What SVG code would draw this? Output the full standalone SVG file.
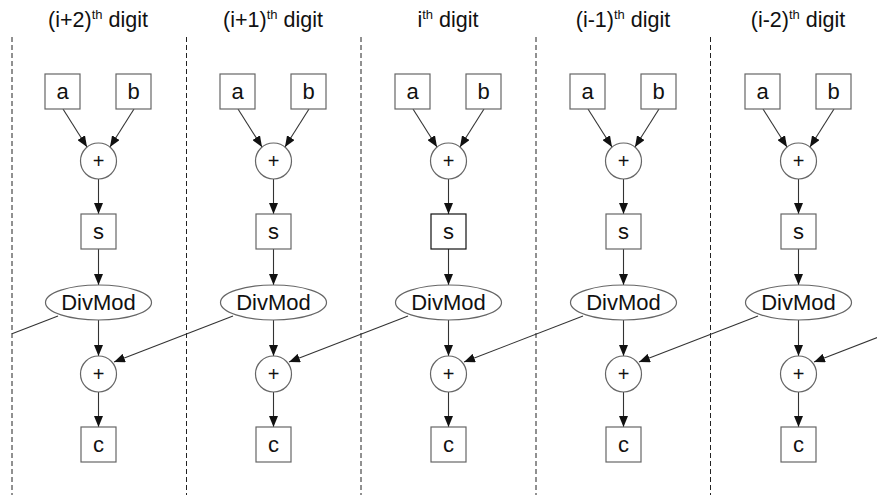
<svg xmlns="http://www.w3.org/2000/svg" width="877" height="495" viewBox="0 0 877 495">
<style>
text{font-family:"Liberation Sans",Arial,sans-serif;fill:#111}
.hdr{font-size:21.5px;text-anchor:middle}
.lbl{font-size:22px;text-anchor:middle}
.pl{font-size:20px;text-anchor:middle}
.box{fill:#fff;stroke:#666;stroke-width:1.2}
.boxk{fill:#fff;stroke:#111;stroke-width:1.2}
.sep{stroke:#222;stroke-width:1;stroke-dasharray:5,3;fill:none}
.e{stroke:#333;stroke-width:1.1;fill:none;marker-end:url(#ah)}
.en{stroke:#333;stroke-width:1.1;fill:none}
</style>
<defs>
<marker id="ah" markerUnits="userSpaceOnUse" markerWidth="11" markerHeight="9" refX="11" refY="4.5" orient="auto">
<path d="M0,0 L11,4.5 L0,9 z" fill="#111"/>
</marker>
</defs>
<rect width="877" height="495" fill="#fff"/>
<g id="separators">
<line class="sep" x1="12" y1="37" x2="12" y2="495"/>
<line class="sep" x1="186.5" y1="37" x2="186.5" y2="495"/>
<line class="sep" x1="361" y1="37" x2="361" y2="495"/>
<line class="sep" x1="536" y1="37" x2="536" y2="495"/>
<line class="sep" x1="710.5" y1="37" x2="710.5" y2="495"/>
</g>
<g id="headers">
<text class="hdr" x="98" y="27">(i+2)<tspan font-size="13" dy="-8">th</tspan><tspan dy="8"> digit</tspan></text>
<text class="hdr" x="273" y="27">(i+1)<tspan font-size="13" dy="-8">th</tspan><tspan dy="8"> digit</tspan></text>
<text class="hdr" x="448" y="27">i<tspan font-size="13" dy="-8">th</tspan><tspan dy="8"> digit</tspan></text>
<text class="hdr" x="623" y="27">(i-1)<tspan font-size="13" dy="-8">th</tspan><tspan dy="8"> digit</tspan></text>
<text class="hdr" x="798" y="27">(i-2)<tspan font-size="13" dy="-8">th</tspan><tspan dy="8"> digit</tspan></text>
</g>
<g id="connectors">
<g transform="translate(0,0)">
<line class="e" x1="63" y1="109" x2="87" y2="147"/><line class="e" x1="134" y1="109" x2="110" y2="147"/>
<line class="e" x1="98.5" y1="179" x2="98.5" y2="214"/><line class="e" x1="98.5" y1="249" x2="98.5" y2="285"/>
<line class="e" x1="98.5" y1="320" x2="98.5" y2="356"/><line class="e" x1="98.5" y1="392" x2="98.5" y2="427"/>
</g>
<g transform="translate(175,0)">
<line class="e" x1="63" y1="109" x2="87" y2="147"/><line class="e" x1="134" y1="109" x2="110" y2="147"/>
<line class="e" x1="98.5" y1="179" x2="98.5" y2="214"/><line class="e" x1="98.5" y1="249" x2="98.5" y2="285"/>
<line class="e" x1="98.5" y1="320" x2="98.5" y2="356"/><line class="e" x1="98.5" y1="392" x2="98.5" y2="427"/>
</g>
<g transform="translate(350,0)">
<line class="e" x1="63" y1="109" x2="87" y2="147"/><line class="e" x1="134" y1="109" x2="110" y2="147"/>
<line class="e" x1="98.5" y1="179" x2="98.5" y2="214"/><line class="e" x1="98.5" y1="249" x2="98.5" y2="285"/>
<line class="e" x1="98.5" y1="320" x2="98.5" y2="356"/><line class="e" x1="98.5" y1="392" x2="98.5" y2="427"/>
</g>
<g transform="translate(525,0)">
<line class="e" x1="63" y1="109" x2="87" y2="147"/><line class="e" x1="134" y1="109" x2="110" y2="147"/>
<line class="e" x1="98.5" y1="179" x2="98.5" y2="214"/><line class="e" x1="98.5" y1="249" x2="98.5" y2="285"/>
<line class="e" x1="98.5" y1="320" x2="98.5" y2="356"/><line class="e" x1="98.5" y1="392" x2="98.5" y2="427"/>
</g>
<g transform="translate(700,0)">
<line class="e" x1="63" y1="109" x2="87" y2="147"/><line class="e" x1="134" y1="109" x2="110" y2="147"/>
<line class="e" x1="98.5" y1="179" x2="98.5" y2="214"/><line class="e" x1="98.5" y1="249" x2="98.5" y2="285"/>
<line class="e" x1="98.5" y1="320" x2="98.5" y2="356"/><line class="e" x1="98.5" y1="392" x2="98.5" y2="427"/>
</g>
<line class="en" x1="58" y1="316" x2="12" y2="333.8"/>
<line class="e" x1="233" y1="316" x2="114" y2="362"/>
<line class="e" x1="408" y1="316" x2="289" y2="362"/>
<line class="e" x1="583" y1="316" x2="464" y2="362"/>
<line class="e" x1="758" y1="316" x2="639" y2="362"/>
<line class="e" x1="933" y1="316" x2="814" y2="362"/>
</g>
<g id="col1" transform="translate(0,0)">
<g id="a1"><rect class="box" x="45" y="74" width="35" height="35"/><text class="lbl" x="62.5" y="99">a</text></g>
<g id="b1"><rect class="box" x="116" y="74" width="35" height="35"/><text class="lbl" x="133.5" y="99">b</text></g>
<g id="sum1"><circle class="box" cx="98.5" cy="161" r="18"/><text class="pl" x="98.5" y="168">+</text></g>
<g id="s1"><rect class="box" x="81" y="214" width="35" height="35"/><text class="lbl" x="98.5" y="239">s</text></g>
<g id="divmod1"><ellipse class="box" cx="98.5" cy="302.5" rx="53" ry="17.5"/><text class="lbl" x="98.5" y="310">DivMod</text></g>
<g id="add1"><circle class="box" cx="98.5" cy="374" r="18"/><text class="pl" x="98.5" y="381">+</text></g>
<g id="c1"><rect class="box" x="81" y="427" width="35" height="35"/><text class="lbl" x="98.5" y="452">c</text></g>
</g>
<g id="col2" transform="translate(175,0)">
<g id="a2"><rect class="box" x="45" y="74" width="35" height="35"/><text class="lbl" x="62.5" y="99">a</text></g>
<g id="b2"><rect class="box" x="116" y="74" width="35" height="35"/><text class="lbl" x="133.5" y="99">b</text></g>
<g id="sum2"><circle class="box" cx="98.5" cy="161" r="18"/><text class="pl" x="98.5" y="168">+</text></g>
<g id="s2"><rect class="box" x="81" y="214" width="35" height="35"/><text class="lbl" x="98.5" y="239">s</text></g>
<g id="divmod2"><ellipse class="box" cx="98.5" cy="302.5" rx="53" ry="17.5"/><text class="lbl" x="98.5" y="310">DivMod</text></g>
<g id="add2"><circle class="box" cx="98.5" cy="374" r="18"/><text class="pl" x="98.5" y="381">+</text></g>
<g id="c2"><rect class="box" x="81" y="427" width="35" height="35"/><text class="lbl" x="98.5" y="452">c</text></g>
</g>
<g id="col3" transform="translate(350,0)">
<g id="a3"><rect class="box" x="45" y="74" width="35" height="35"/><text class="lbl" x="62.5" y="99">a</text></g>
<g id="b3"><rect class="box" x="116" y="74" width="35" height="35"/><text class="lbl" x="133.5" y="99">b</text></g>
<g id="sum3"><circle class="box" cx="98.5" cy="161" r="18"/><text class="pl" x="98.5" y="168">+</text></g>
<g id="s3"><rect class="boxk" x="81" y="214" width="35" height="35"/><text class="lbl" x="98.5" y="239">s</text></g>
<g id="divmod3"><ellipse class="box" cx="98.5" cy="302.5" rx="53" ry="17.5"/><text class="lbl" x="98.5" y="310">DivMod</text></g>
<g id="add3"><circle class="box" cx="98.5" cy="374" r="18"/><text class="pl" x="98.5" y="381">+</text></g>
<g id="c3"><rect class="box" x="81" y="427" width="35" height="35"/><text class="lbl" x="98.5" y="452">c</text></g>
</g>
<g id="col4" transform="translate(525,0)">
<g id="a4"><rect class="box" x="45" y="74" width="35" height="35"/><text class="lbl" x="62.5" y="99">a</text></g>
<g id="b4"><rect class="box" x="116" y="74" width="35" height="35"/><text class="lbl" x="133.5" y="99">b</text></g>
<g id="sum4"><circle class="box" cx="98.5" cy="161" r="18"/><text class="pl" x="98.5" y="168">+</text></g>
<g id="s4"><rect class="box" x="81" y="214" width="35" height="35"/><text class="lbl" x="98.5" y="239">s</text></g>
<g id="divmod4"><ellipse class="box" cx="98.5" cy="302.5" rx="53" ry="17.5"/><text class="lbl" x="98.5" y="310">DivMod</text></g>
<g id="add4"><circle class="box" cx="98.5" cy="374" r="18"/><text class="pl" x="98.5" y="381">+</text></g>
<g id="c4"><rect class="box" x="81" y="427" width="35" height="35"/><text class="lbl" x="98.5" y="452">c</text></g>
</g>
<g id="col5" transform="translate(700,0)">
<g id="a5"><rect class="box" x="45" y="74" width="35" height="35"/><text class="lbl" x="62.5" y="99">a</text></g>
<g id="b5"><rect class="box" x="116" y="74" width="35" height="35"/><text class="lbl" x="133.5" y="99">b</text></g>
<g id="sum5"><circle class="box" cx="98.5" cy="161" r="18"/><text class="pl" x="98.5" y="168">+</text></g>
<g id="s5"><rect class="box" x="81" y="214" width="35" height="35"/><text class="lbl" x="98.5" y="239">s</text></g>
<g id="divmod5"><ellipse class="box" cx="98.5" cy="302.5" rx="53" ry="17.5"/><text class="lbl" x="98.5" y="310">DivMod</text></g>
<g id="add5"><circle class="box" cx="98.5" cy="374" r="18"/><text class="pl" x="98.5" y="381">+</text></g>
<g id="c5"><rect class="box" x="81" y="427" width="35" height="35"/><text class="lbl" x="98.5" y="452">c</text></g>
</g>
</svg>
